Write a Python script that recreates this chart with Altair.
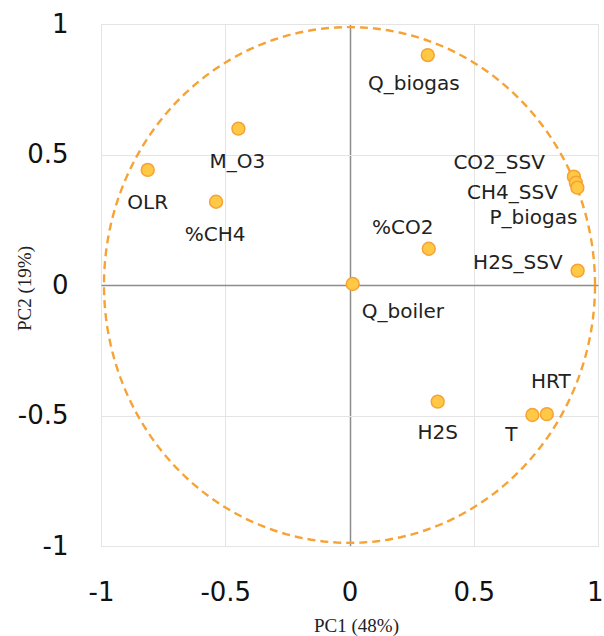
import altair as alt
import numpy as np
import pandas as pd

# ---- data ----
variables = ["Q_biogas", "M_O3", "OLR", "%CH4", "CO2_SSV", "CH4_SSV", "P_biogas",
             "%CO2", "H2S_SSV", "Q_boiler", "H2S", "T", "HRT"]
pc1 = [0.315, -0.447, -0.812, -0.537, 0.903, 0.911, 0.917,
       0.319, 0.918, 0.013, 0.355, 0.736, 0.794]
pc2 = [0.881, 0.599, 0.441, 0.319, 0.415, 0.392, 0.373,
       0.139, 0.055, 0.004, -0.447, -0.498, -0.495]
ticks = [-1, -0.5, 0, 0.5, 1]
circle_radius = 0.988

points = pd.DataFrame({"variable": variables, "PC1": pc1, "PC2": pc2})

# correlation circle (reference curve)
theta = np.linspace(0, 2 * np.pi, 241)
circle = pd.DataFrame({"PC1": circle_radius * np.cos(theta),
                       "PC2": circle_radius * np.sin(theta),
                       "order": np.arange(len(theta))})

# label placement (pixel offsets, alignment)
label_style = {
    "Q_biogas": (-14, 29, "center"),
    "M_O3": (-1, 33, "center"),
    "OLR": (0, 33, "center"),
    "%CH4": (-1, 33, "center"),
    "CO2_SSV": (-29, -14, "right"),
    "CH4_SSV": (-18, 10, "right"),
    "P_biogas": (0, 30, "right"),
    "%CO2": (-26, -21, "center"),
    "H2S_SSV": (-15, -8, "right"),
    "Q_boiler": (9, 28, "left"),
    "H2S": (0, 31, "center"),
    "T": (-21, 20, "center"),
    "HRT": (4, -32, "center"),
}

ORANGE = "#F7A234"
FILL = "#FFC845"

xscale = alt.Scale(domain=[-1, 1], nice=False, zero=False)
yscale = alt.Scale(domain=[-1, 1], nice=False, zero=False)

lab_expr = "datum.value == 0 ? '0' : toString(datum.value)"

x_enc = alt.X("PC1:Q", scale=xscale, axis=alt.Axis(
    values=ticks, title="PC1 (48%)", labelExpr=lab_expr, ticks=False, domain=False,
    labelFont="DejaVu Sans", labelFontSize=26, labelColor="#111111",
    labelPadding=46, labelBaseline="middle",
    labelAlign=alt.condition("datum.value == 1", alt.value("right"), alt.value("center")),
    labelOffset=alt.condition("datum.value == 1", alt.value(5), alt.value(0)),
    gridColor=alt.condition("datum.value === 0", alt.value("#8c8c8c"), alt.value("#e4e4e4")),
    gridWidth=alt.condition("datum.value === 0", alt.value(1.5), alt.value(1)),
    titleFont="Liberation Serif", titleFontSize=19, titleFontWeight="normal",
    titleColor="#222222", titleX=255, titleY=79, titleBaseline="middle",
    labelFlush=False, labelOverlap=False))
y_enc = alt.Y("PC2:Q", scale=yscale, axis=alt.Axis(
    values=ticks, title="PC2 (19%)", labelExpr=lab_expr, ticks=False, domain=False,
    labelFont="DejaVu Sans", labelFontSize=26, labelColor="#111111",
    labelPadding=33, labelBaseline="middle", labelAlign="right",
    gridColor=alt.condition("datum.value === 0", alt.value("#8c8c8c"), alt.value("#e4e4e4")),
    gridWidth=alt.condition("datum.value === 0", alt.value(1.5), alt.value(1)),
    titleFont="Liberation Serif", titleFontSize=19, titleFontWeight="normal",
    titleColor="#222222", titleX=-77, titleY=264, titleBaseline="middle",
    labelFlush=False, labelOverlap=False))

circ = alt.Chart(circle).mark_line(
    color=ORANGE, strokeWidth=2.4, strokeDash=[8, 5]
).encode(x=x_enc, y=y_enc, order="order:Q")

pts = alt.Chart(points).mark_point(
    filled=True, fill=FILL, stroke=ORANGE, strokeWidth=1.5, size=165, opacity=1, shape="circle"
).encode(x=alt.X("PC1:Q", scale=xscale), y=alt.Y("PC2:Q", scale=yscale))

layers = [circ, pts]
for name, (dx, dy, align) in label_style.items():
    layers.append(
        alt.Chart(points).transform_filter(alt.datum.variable == name).mark_text(
            dx=dx, dy=dy, align=align, baseline="middle",
            font="DejaVu Sans", fontSize=20, color="#222222"
        ).encode(x=alt.X("PC1:Q", scale=xscale), y=alt.Y("PC2:Q", scale=yscale),
                 text="variable:N")
    )

chart = alt.layer(*layers).properties(
    width=497, height=522,
    autosize=alt.AutoSizeParams(type="none"),
    padding={"left": 101, "top": 24, "right": 6, "bottom": 90},
).configure_view(stroke="#8c8c8c", strokeWidth=1.5).configure(background="white")

chart.save("out.html", embed_options={"renderer": "svg", "actions": False})
